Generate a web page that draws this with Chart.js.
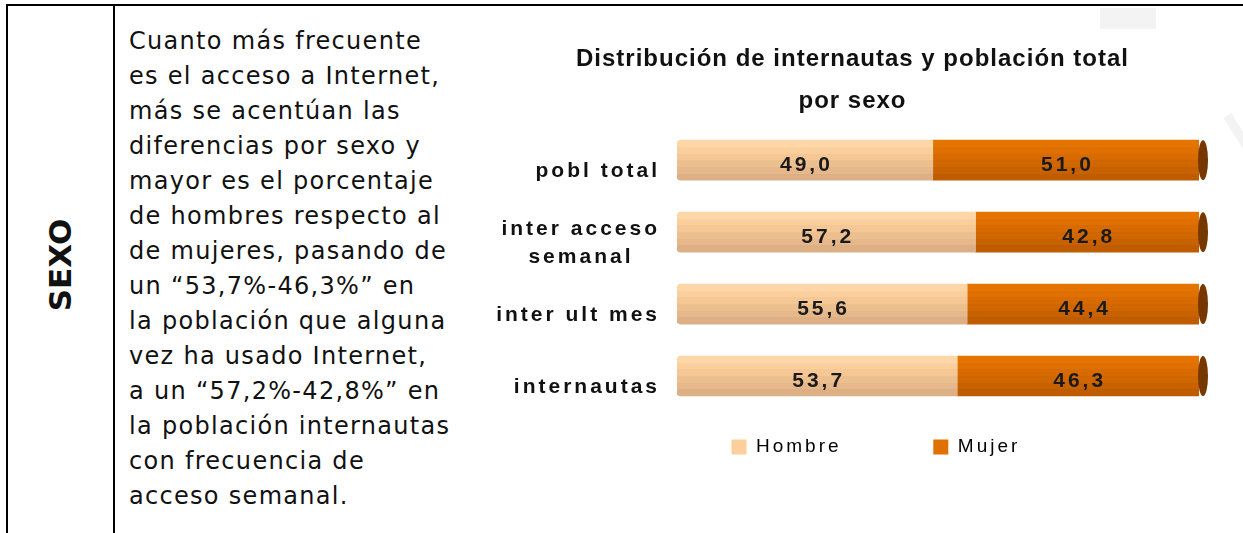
<!DOCTYPE html>
<html lang="es">
<head>
<meta charset="utf-8">
<title>Distribución de internautas y población total por sexo</title>
<script src="https://cdn.jsdelivr.net/npm/chart.js@4.4.1/dist/chart.umd.min.js"></script>
<style>
    html, body { margin: 0; padding: 0; background: #fff; }
    body { width: 1243px; height: 533px; position: relative; overflow: hidden; }
    .rule { position: absolute; background: #000; }
    #topRule { left: 6px; top: 4px; width: 1237px; height: 2px; }
    #leftRule { left: 6px; top: 4px; width: 2px; height: 529px; }
    #midRule { left: 113px; top: 4px; width: 2px; height: 529px; }
    .ghost { position: absolute; background: #f3f3f3; }
    #ghostBox { left: 1100px; top: 8px; width: 56px; height: 21px; }
    #ghostSlash { left: 1218px; top: 128px; width: 40px; height: 9px; transform: rotate(58deg); }
    #side {
        position: absolute; left: 60px; top: 265px;
        transform: translate(-50%, -50%) rotate(-90deg);
        font: bold 31px "DejaVu Sans"; color: #111; white-space: nowrap;
    }
    #note {
        position: absolute; left: 129px; top: 24px;
        font: 24px/35px "DejaVu Sans"; letter-spacing: 1.3px;
        color: #111; white-space: nowrap;
    }
    #chartBox { position: absolute; left: 470px; top: 30px; width: 773px; height: 440px; }
</style>
</head>
<body>
<div class="rule" id="topRule"></div>
<div class="rule" id="leftRule"></div>
<div class="rule" id="midRule"></div>
<div class="ghost" id="ghostBox"></div>
<div class="ghost" id="ghostSlash"></div>
<div id="side">SEXO</div>
<div id="note">Cuanto más frecuente<br>es el acceso a Internet,<br>más se acentúan las<br>diferencias por sexo y<br>mayor es el porcentaje<br>de hombres respecto al<br>de mujeres, pasando de<br>un “53,7%-46,3%” en<br>la población que alguna<br>vez ha usado Internet,<br>a un “57,2%-42,8%” en<br>la población internautas<br>con frecuencia de<br>acceso semanal.</div>
<div id="chartBox"><canvas id="sexChart"></canvas></div>

<script>
    // data
    const categories = ['pobl total', ['inter acceso', 'semanal   '], 'inter ult mes', 'internautas'];
    const seriesNames = ['Hombre', 'Mujer'];
    const hombreValues = [49.0, 57.2, 55.6, 53.7];
    const mujerValues = [51.0, 42.8, 44.4, 46.3];
    const chartTitle = ['Distribución de internautas y población total', 'por sexo'];

    // colours: horizontal bands top -> bottom, to mimic the cylinder shading
    const hombreBands = ['#ffd7a6', '#fbcf9d', '#f4c795', '#ecbf8f', '#e5b78a', '#dcaf85'];
    const mujerBands = ['#e47400', '#de6f00', '#d76a00', '#d06600', '#c86100', '#c05c00'];
    const legendColors = ['#fdcf9c', '#e07000'];
    const capColor = '#773800';

    const barThickness = 40;
    const legendFont = '19px "Liberation Sans"';

    // pad a legend label with spaces so the items sit as far apart as in the picture
    function padLabel(text, width) {
        const c = document.createElement('canvas').getContext('2d');
        c.font = legendFont;
        c.letterSpacing = '3px';
        let s = text;
        while (c.measureText(s + ' ').width <= width) {
            s += ' ';
        }
        return s;
    }
    const legendTextWidths = [152, 193];

    function bandFill(bands) {
        return function (context) {
            const yScale = context.chart.scales.y;
            if (context.type !== 'data' || !yScale) {
                return bands[0];
            }
            const mid = yScale.getPixelForValue(context.dataIndex);
            const g = context.chart.ctx.createLinearGradient(0, mid - barThickness / 2, 0, mid + barThickness / 2);
            bands.forEach((col, i) => {
                g.addColorStop(i / bands.length, col);
                g.addColorStop((i + 1) / bands.length, col);
            });
            return g;
        };
    }

    // the chart text in the picture is spaced out a little
    const spacingPlugin = {
        id: 'spacing',
        beforeUpdate(chart) {
            chart.ctx.letterSpacing = '3px';
        },
        beforeDraw(chart) {
            chart.ctx.letterSpacing = '3px';
            const t = chart.titleBlock;
            if (t && !t._spaced) {
                const draw = t.draw;
                t.draw = function () {
                    chart.ctx.letterSpacing = '1px';
                    draw.apply(this, arguments);
                    chart.ctx.letterSpacing = '3px';
                };
                t._spaced = true;
            }
        }
    };

    // dark ellipse closing the right end of each bar
    const capPlugin = {
        id: 'cylinderCap',
        afterDatasetsDraw(chart) {
            const ctx = chart.ctx;
            ctx.save();
            ctx.fillStyle = capColor;
            chart.getDatasetMeta(1).data.forEach(bar => {
                ctx.beginPath();
                ctx.ellipse(bar.x + 4, bar.y, 5, bar.height / 2, 0, 0, Math.PI * 2);
                ctx.fill();
            });
            ctx.restore();
        }
    };

    // value labels in the middle of every segment
    const valueLabels = {
        id: 'valueLabels',
        afterDatasetsDraw(chart) {
            const ctx = chart.ctx;
            ctx.save();
            ctx.font = 'bold 21px "Liberation Sans"';
            ctx.fillStyle = '#1a1a1a';
            ctx.textAlign = 'center';
            ctx.textBaseline = 'middle';
            chart.data.datasets.forEach((ds, di) => {
                chart.getDatasetMeta(di).data.forEach((bar, i) => {
                    const txt = ds.data[i].toFixed(1).replace('.', ',');
                    ctx.fillText(txt, (bar.x + bar.base) / 2 + 1.5, bar.y + 5);
                });
            });
            ctx.restore();
        }
    };

    const ctx = document.getElementById('sexChart').getContext('2d');
    const sexChart = new Chart(ctx, {
        type: 'bar',
        data: {
            labels: categories,
            datasets: [{
                label: seriesNames[0],
                data: hombreValues,
                backgroundColor: bandFill(hombreBands),
                borderWidth: 0,
                borderSkipped: false,
                borderRadius: { topLeft: 4, bottomLeft: 4, topRight: 0, bottomRight: 0 },
                barThickness: barThickness
            }, {
                label: seriesNames[1],
                data: mujerValues,
                backgroundColor: bandFill(mujerBands),
                borderWidth: 0,
                barThickness: barThickness
            }]
        },
        options: {
            indexAxis: 'y',
            responsive: true,
            maintainAspectRatio: false,
            animation: false,
            events: [],
            layout: {
                padding: { left: 0, right: 8, top: 0, bottom: 3.5 }
            },
            scales: {
                x: {
                    display: false,
                    stacked: true,
                    min: 0,
                    max: 100
                },
                y: {
                    stacked: true,
                    grid: { display: false, drawTicks: false },
                    border: { display: false },
                    afterFit(scale) {
                        scale.width = 207;
                    },
                    ticks: {
                        color: '#111',
                        padding: 17,
                        labelOffset: 11,
                        font: { family: 'Liberation Sans', size: 21, weight: 'bold', lineHeight: 1.3 }
                    }
                },
                // empty right-hand axis, only keeps the bars clear of the right edge
                yRight: {
                    type: 'category',
                    position: 'right',
                    grid: { display: false, drawTicks: false },
                    border: { display: false },
                    ticks: { display: false },
                    afterFit(scale) {
                        scale.width = 36;
                    }
                }
            },
            plugins: {
                title: {
                    display: true,
                    text: chartTitle,
                    color: '#111',
                    font: { family: 'Liberation Sans', size: 24, weight: 'bold', lineHeight: 1.75 },
                    padding: { top: 8, bottom: 2.2 }
                },
                legend: {
                    position: 'bottom',
                    fullSize: false,
                    labels: {
                        color: '#222',
                        boxWidth: 15,
                        boxHeight: 15,
                        padding: 25.5,
                        font: { family: 'Liberation Sans', size: 19 },
                        generateLabels: () => seriesNames.map((name, i) => ({
                            text: padLabel(name, legendTextWidths[i]),
                            fillStyle: legendColors[i],
                            strokeStyle: legendColors[i],
                            lineWidth: 0,
                            hidden: false,
                            datasetIndex: i
                        }))
                    }
                },
                tooltip: { enabled: false }
            }
        },
        plugins: [spacingPlugin, capPlugin, valueLabels]
    });
</script>
</body>
</html>
